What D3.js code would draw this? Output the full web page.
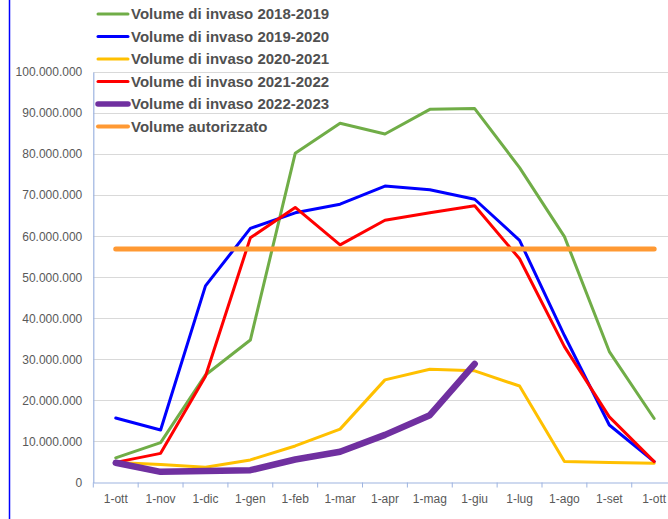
<!DOCTYPE html>
<html>
<head>
<meta charset="utf-8">
<script src="https://cdn.jsdelivr.net/npm/d3@7"></script>
<style>
	body { margin: 0; background: #fff; }
	text { font-family: "Liberation Sans", Arial, sans-serif; }
</style>
</head>
<body>
<svg width="668" height="519"></svg>
<script>
// categories (months, hydrological year oct -> oct)
var categories = ["1-ott", "1-nov", "1-dic", "1-gen", "1-feb", "1-mar", "1-apr", "1-mag", "1-giu", "1-lug", "1-ago", "1-set", "1-ott"];

// series values, in millions of m3
var vol1819 = [6.0, 9.7, 26.2, 34.7, 80.2, 87.5, 84.9, 90.9, 91.1, 76.7, 59.9, 31.9, 15.6];
var vol1920 = [15.7, 12.8, 47.9, 61.9, 65.7, 67.8, 72.2, 71.3, 69.0, 59.0, 35.8, 14.0, 5.1];
var vol2021 = [4.9, 4.4, 3.7, 5.5, 8.9, 13.0, 25.0, 27.6, 27.2, 23.5, 5.1, 4.9, 4.7];
var vol2122 = [4.9, 7.1, 25.9, 59.6, 67.0, 57.9, 63.9, 65.7, 67.4, 54.5, 33.1, 16.0, 5.1];
var vol2223 = [4.8, 2.6, 2.8, 3.0, 5.6, 7.5, 11.6, 16.4, 28.9];
var volAutorizzato = [56.9, 56.9, 56.9, 56.9, 56.9, 56.9, 56.9, 56.9, 56.9, 56.9, 56.9, 56.9, 56.9];

// y tick values
var yTicks = [0, 10, 20, 30, 40, 50, 60, 70, 80, 90, 100];

var series = [
	{name: "Volume di invaso 2018-2019", values: vol1819, color: "#70AD47", width: 3},
	{name: "Volume di invaso 2019-2020", values: vol1920, color: "#0000FF", width: 3},
	{name: "Volume di invaso 2020-2021", values: vol2021, color: "#FFC000", width: 3},
	{name: "Volume di invaso 2021-2022", values: vol2122, color: "#FF0000", width: 3},
	{name: "Volume di invaso 2022-2023", values: vol2223, color: "#7030A0", width: 6.5},
	{name: "Volume autorizzato", values: volAutorizzato, color: "#FF9933", width: 5}
];

var svg = d3.select("svg");

var it = d3.formatLocale({decimal: ",", thousands: ".", grouping: [3], currency: ["€", ""]});
var fmt = it.format(",");

// scales
var x = d3.scaleBand().domain(d3.range(categories.length)).range([93.3, 93.3 + 13 * 44.87]).padding(0);
var y = d3.scaleLinear().domain([0, 100]).range([482.5, 72]);

function cx(i) {
	return x(i) + x.bandwidth() / 2;
}

// left border of the frame
svg.append("line")
	.attr("x1", 9.5).attr("x2", 9.5)
	.attr("y1", 0).attr("y2", 519)
	.attr("stroke", "#0000FF")
	.attr("stroke-width", 1.5);

// gridlines
svg.append("g")
	.selectAll("line")
	.data(yTicks.slice(1))
	.enter().append("line")
	.attr("x1", 93.3).attr("x2", 668)
	.attr("y1", function(d) { return Math.round(y(d)) + 0.5; })
	.attr("y2", function(d) { return Math.round(y(d)) + 0.5; })
	.attr("stroke", "#D9D9D9");

// y axis
var yAxis = svg.append("g")
	.attr("transform", "translate(93.3,0)")
	.call(d3.axisLeft(y).tickValues(yTicks).tickSize(0).tickPadding(11)
		.tickFormat(function(d) { return fmt(d * 1000000); }));
yAxis.select(".domain").attr("stroke", "#9DB3E0").attr("stroke-width", 1.2);
yAxis.selectAll("text").attr("fill", "#595959").style("font-size", "12px");

// x axis
var xAxis = svg.append("g")
	.attr("transform", "translate(0,482.5)")
	.call(d3.axisBottom(x).tickSize(0).tickPadding(12)
		.tickFormat(function(d) { return categories[d]; }));
xAxis.select(".domain").attr("stroke", "#9DB3E0").attr("stroke-width", 1.2);
xAxis.selectAll("text").attr("fill", "#595959").style("font-size", "12px");

// tick marks between categories
xAxis.append("g")
	.selectAll("line")
	.data(d3.range(categories.length))
	.enter().append("line")
	.attr("x1", function(d) { return x(d); })
	.attr("x2", function(d) { return x(d); })
	.attr("y1", 0).attr("y2", 5)
	.attr("stroke", "#9DB3E0");

// lines
var line = d3.line()
	.x(function(d, i) { return cx(i); })
	.y(function(d) { return y(d); });

svg.append("g")
	.selectAll("path")
	.data(series)
	.enter().append("path")
	.attr("d", function(d) { return line(d.values); })
	.attr("fill", "none")
	.attr("stroke", function(d) { return d.color; })
	.attr("stroke-width", function(d) { return d.width; })
	.attr("stroke-linejoin", "round")
	.attr("stroke-linecap", "round");

// legend
var legend = svg.append("g")
	.selectAll("g")
	.data(series)
	.enter().append("g")
	.attr("transform", function(d, i) { return "translate(98," + (14 + i * 22.5) + ")"; });

legend.append("line")
	.attr("x1", 0).attr("x2", 30)
	.attr("stroke", function(d) { return d.color; })
	.attr("stroke-width", function(d) { return d.width > 3 ? d.width - 1 : 3; })
	.attr("stroke-linecap", "round");

legend.append("text")
	.attr("x", 33)
	.attr("dy", "0.35em")
	.attr("fill", "#505050")
	.style("font-size", "15px")
	.style("font-weight", "bold")
	.text(function(d) { return d.name; });
</script>
</body>
</html>
